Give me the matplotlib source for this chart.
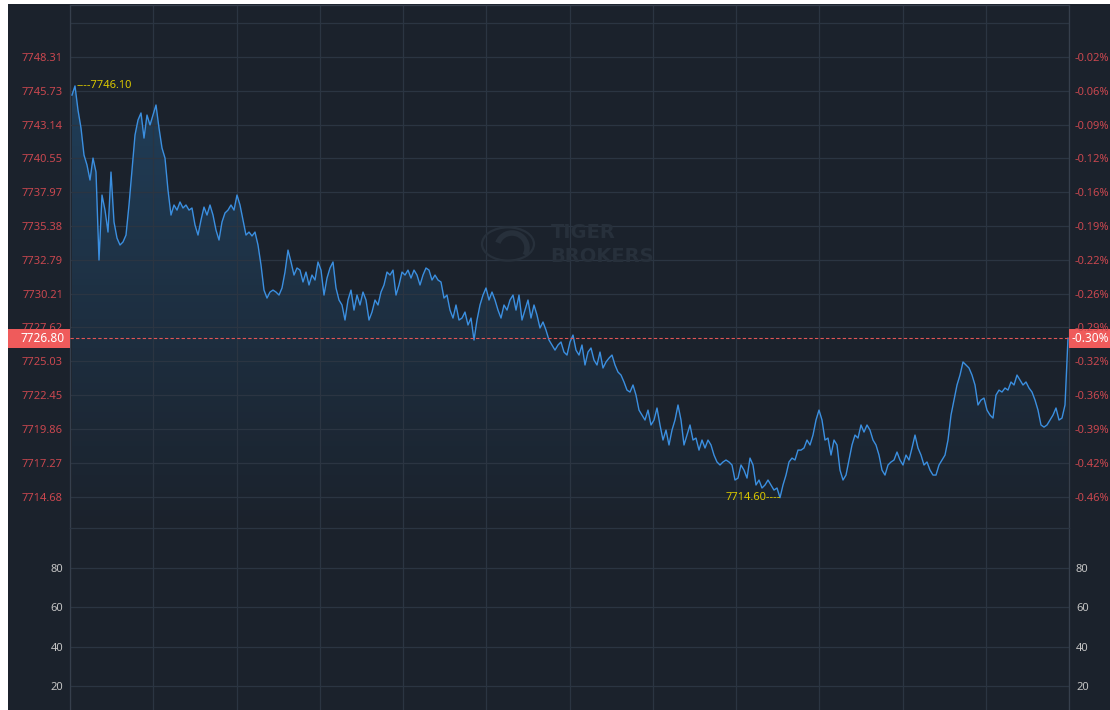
import numpy as np
import matplotlib
matplotlib.use("Agg")
import matplotlib.pyplot as plt
from matplotlib.patches import Rectangle, Polygon, Circle, Arc
from matplotlib.colors import LinearSegmentedColormap
import matplotlib.transforms as mtransforms

# ---------------- data ----------------
prices = [
    7745.40, 7746.10, 7744.25, 7742.88, 7740.81, 7740.05, 7738.90, 7740.58, 7739.51, 7732.78,
    7737.75, 7736.60, 7734.92, 7739.51, 7735.69, 7734.46, 7733.93, 7734.16, 7734.69, 7736.99,
    7739.66, 7742.34, 7743.49, 7744.03, 7742.11, 7743.87, 7743.11, 7743.87, 7744.64, 7742.88,
    7741.35, 7740.58, 7738.13, 7736.22, 7736.99, 7736.60, 7737.22, 7736.76, 7736.99, 7736.60,
    7736.76, 7735.46, 7734.69, 7735.84, 7736.83, 7736.22, 7736.99, 7736.22, 7735.07, 7734.31,
    7735.69, 7736.38, 7736.60, 7736.99, 7736.60, 7737.75, 7736.99, 7735.84, 7734.69, 7734.92,
    7734.62, 7734.92, 7733.93, 7732.40, 7730.48, 7729.87, 7730.33, 7730.48, 7730.33, 7730.10,
    7730.64, 7731.86, 7733.54, 7732.63, 7731.63, 7732.17, 7732.01, 7731.10, 7731.86, 7730.87,
    7731.63, 7731.25, 7732.63, 7732.01, 7730.10, 7731.40, 7732.17, 7732.63, 7730.64, 7729.72,
    7729.34, 7728.19, 7729.72, 7730.48, 7728.95, 7730.10, 7729.34, 7730.33, 7729.72, 7728.19,
    7728.80, 7729.72, 7729.34, 7730.33, 7730.87, 7731.86, 7731.63, 7732.01, 7730.10, 7730.87,
    7731.86, 7731.63, 7732.01, 7731.40, 7732.01, 7731.63, 7730.87, 7731.63, 7732.17, 7732.01,
    7731.25, 7731.63, 7731.25, 7731.10, 7729.87, 7730.10, 7728.95, 7728.34, 7729.34, 7728.19,
    7728.34, 7728.80, 7727.81, 7728.34, 7726.66, 7728.19, 7729.34, 7730.10, 7730.64, 7729.72,
    7730.33, 7729.72, 7728.95, 7728.34, 7729.34, 7728.95, 7729.72, 7730.10, 7728.95, 7730.10,
    7728.19, 7728.95, 7729.72, 7728.34, 7729.34, 7728.57, 7727.58, 7728.04, 7727.42, 7726.66,
    7726.28, 7725.89, 7726.28, 7726.51, 7725.74, 7725.51, 7726.51, 7727.04, 7725.89, 7725.51,
    7726.28, 7724.75, 7725.74, 7726.05, 7725.13, 7724.75, 7725.74, 7724.52, 7724.98, 7725.28,
    7725.51, 7724.75, 7724.21, 7723.98, 7723.45, 7722.83, 7722.68, 7723.22, 7722.45, 7721.30,
    7720.92, 7720.54, 7721.30, 7720.16, 7720.54, 7721.46, 7720.16, 7719.01, 7719.77, 7718.63,
    7719.77, 7720.54, 7721.69, 7720.54, 7718.63, 7719.39, 7720.16, 7719.01, 7719.16, 7718.24,
    7719.01, 7718.40, 7719.01, 7718.63, 7717.86, 7717.33, 7717.10, 7717.33, 7717.48, 7717.33,
    7717.10, 7715.95, 7716.10, 7717.10, 7716.71, 7716.10, 7717.63, 7717.10, 7715.57, 7715.95,
    7715.34, 7715.57, 7715.95, 7715.57, 7715.18, 7715.34, 7714.60, 7715.57, 7716.33, 7717.33,
    7717.63, 7717.48, 7718.24, 7718.24, 7718.40, 7719.01, 7718.63, 7719.39, 7720.54, 7721.30,
    7720.54, 7719.01, 7719.16, 7717.86, 7719.01, 7718.63, 7716.71, 7715.95, 7716.33, 7717.48,
    7718.63, 7719.39, 7719.16, 7720.16, 7719.62, 7720.16, 7719.77, 7719.01, 7718.63, 7717.86,
    7716.71, 7716.33, 7717.10, 7717.33, 7717.48, 7718.09, 7717.48, 7717.10, 7717.86, 7717.48,
    7718.40, 7719.39, 7718.40, 7717.86, 7717.10, 7717.33, 7716.71, 7716.33, 7716.33, 7717.10,
    7717.48, 7717.86, 7719.01, 7720.92, 7722.07, 7723.22, 7723.98, 7724.98, 7724.75, 7724.52,
    7723.98, 7723.22, 7721.69, 7722.07, 7722.22, 7721.30, 7720.92, 7720.69, 7722.45, 7722.83,
    7722.68, 7722.99, 7722.83, 7723.45, 7723.22, 7723.98, 7723.60, 7723.22, 7723.45, 7722.99,
    7722.68, 7722.07, 7721.30, 7720.16, 7720.00, 7720.16, 7720.54, 7720.92, 7721.46, 7720.54,
    7720.69, 7721.69, 7726.80,
]
price_ticks = [7748.31, 7745.73, 7743.14, 7740.55, 7737.97, 7735.38, 7732.79, 7730.21,
               7727.62, 7725.03, 7722.45, 7719.86, 7717.27, 7714.68]
extra_grid = [7750.90]
pct_labels = ["-0.02%", "-0.06%", "-0.09%", "-0.12%", "-0.16%", "-0.19%", "-0.22%", "-0.26%",
              "-0.29%", "-0.32%", "-0.36%", "-0.39%", "-0.42%", "-0.46%"]
last_price = 7726.80
last_pct = "-0.30%"
high_price = 7746.10
low_price = 7714.60
vol_ticks = [20, 40, 60, 80]

# ---------------- style ----------------
W, H = 1110, 710
BG = "#1b222c"
GRID = "#2b3542"
SPINE = "#363f4c"
RED_TXT = "#c9474f"
BOX = "#ef5b5b"
LINE = "#3b8fe0"
YEL = "#d9c700"
GREY_TXT = "#c4c4c4"
FONT = "Noto Sans"

def fx(px):
    return px / W

def fy(py):
    return 1 - py / H

fig = plt.figure(figsize=(W / 100, H / 100), dpi=100, facecolor="white")
fig.patches.append(Rectangle((fx(8), 0), 1 - fx(8), fy(4), transform=fig.transFigure,
                             facecolor=BG, edgecolor="none", zorder=-10))

L, R = 70, 1069
top_y0, top_y1 = 5, 528
ax = fig.add_axes([fx(L), fy(top_y1), fx(R) - fx(L), fy(top_y0) - fy(top_y1)])
axv = fig.add_axes([fx(L), 0, fx(R) - fx(L), fy(top_y1)])

N = len(prices)
x = np.arange(N)
step = (1068 - 72) / (N - 1)
xlo = -(72 - L) / step
xhi = (R - 72) / step
ytop = 7752.29
ybot = 7712.28

for a in (ax, axv):
    a.set_facecolor(BG)
    a.set_xlim(xlo, xhi)
    a.set_xticks(np.linspace(xlo, xhi, 13))
    a.tick_params(axis="x", length=0, labelbottom=False)
    a.grid(True, axis="x", color=GRID, lw=0.9)
    for s in a.spines.values():
        s.set_color(SPINE)
        s.set_linewidth(0.9)

ax.set_ylim(ybot, ytop)
ax.set_yticks(price_ticks + extra_grid)
ax.set_yticklabels([f"{v:.2f}" for v in price_ticks] + [""])
ax.grid(True, axis="y", color=GRID, lw=0.9)
ax.tick_params(axis="y", length=0, pad=5, labelsize=8, labelcolor=RED_TXT)
for t in ax.get_yticklabels():
    t.set_fontfamily(FONT)
ax.spines["bottom"].set_visible(False)

# right percentage axis
axr = ax.twinx()
axr.set_ylim(ybot, ytop)
axr.set_yticks(price_ticks)
axr.set_yticklabels(pct_labels)
axr.tick_params(axis="y", length=0, pad=4, labelsize=8, labelcolor=RED_TXT)
for t in axr.get_yticklabels():
    t.set_fontfamily(FONT)
for s in axr.spines.values():
    s.set_visible(False)

# gradient fill under the line
verts = np.vstack([np.column_stack([x, prices]), [[x[-1], ybot], [x[0], ybot]]])
clip = Polygon(verts, closed=True, transform=ax.transData, facecolor="none", edgecolor="none")
ax.add_patch(clip)
cmap = LinearSegmentedColormap.from_list("g", [(0.18, 0.50, 0.76, 0.0), (0.18, 0.50, 0.76, 0.30)])
grad = np.linspace(1, 0, 256).reshape(-1, 1)
im = ax.imshow(grad, extent=[xlo, xhi, ybot, high_price], aspect="auto", cmap=cmap,
               origin="upper", zorder=1, interpolation="bilinear")
im.set_clip_path(clip)
ax.set_ylim(ybot, ytop)
ax.set_xlim(xlo, xhi)

ax.plot(x, prices, color=LINE, lw=1.0, zorder=3, solid_joinstyle="round")

# last price dashed line
ax.axhline(last_price, color="#e05555", lw=0.8, ls=(0, (3, 2)), zorder=4)

# boxes for last price
btr = mtransforms.blended_transform_factory(fig.transFigure, ax.transData)
bh = 19 * (ytop - ybot) / (top_y1 - top_y0)
ax.add_patch(Rectangle((fx(8), last_price - bh / 2), fx(L) - fx(8), bh, transform=btr,
                       facecolor=BOX, edgecolor="none", clip_on=False, zorder=6))
ax.add_patch(Rectangle((fx(R), last_price - bh / 2), 1 - fx(R), bh, transform=btr,
                       facecolor=BOX, edgecolor="none", clip_on=False, zorder=6))
ax.text(fx(L) - 5 / W, last_price, f"{last_price:.2f}", transform=btr, ha="right", va="center",
        color="white", fontsize=8.5, fontfamily=FONT, zorder=7, clip_on=False)
ax.text(fx(R) + 3 / W, last_price, last_pct, transform=btr, ha="left", va="center",
        color="white", fontsize=8.5, fontfamily=FONT, zorder=7, clip_on=False)

# high / low labels
i_hi = int(np.argmax(prices))
i_lo = int(np.argmin(prices))
ax.annotate(f"----{high_price:.2f}", (i_hi, high_price), xytext=(1, 0), textcoords="offset points",
            ha="left", va="center", color=YEL, fontsize=8, fontfamily=FONT, zorder=5)
ax.annotate(f"{low_price:.2f}----", (i_lo, low_price), xytext=(1, 0), textcoords="offset points",
            ha="right", va="center", color=YEL, fontsize=8, fontfamily=FONT, zorder=5)

# watermark
WM = "#27303b"
fig.patches.append(Circle((fx(508), fy(244)), 26 / W, transform=fig.transFigure,
                          facecolor="none", edgecolor=WM, lw=1.6, zorder=2))
fig.patches.append(Arc((fx(512), fy(248)), 30 / W, 30 / H, angle=0, theta1=-40, theta2=150,
                       transform=fig.transFigure, color=WM, lw=4, zorder=2))
fig.text(fx(551), fy(232), "TIGER", color=WM, fontsize=14, fontweight="bold",
         fontfamily="DejaVu Sans", va="center", ha="left")
fig.text(fx(550), fy(256), "BROKERS", color=WM, fontsize=14, fontweight="bold",
         fontfamily="DejaVu Sans", va="center", ha="left")

# volume panel (empty)
axv.set_ylim(7.8, 100.3)
axv.set_yticks(vol_ticks)
axv.grid(True, axis="y", color=GRID, lw=0.9)
axv.tick_params(axis="y", length=0, pad=5, labelsize=8, labelcolor=GREY_TXT,
                labelright=True, right=False)
for t in axv.get_yticklabels():
    t.set_fontfamily(FONT)
axv.spines["bottom"].set_visible(False)
axv.spines["top"].set_color(GRID)

fig.savefig("out.png", dpi=100, facecolor="white")
